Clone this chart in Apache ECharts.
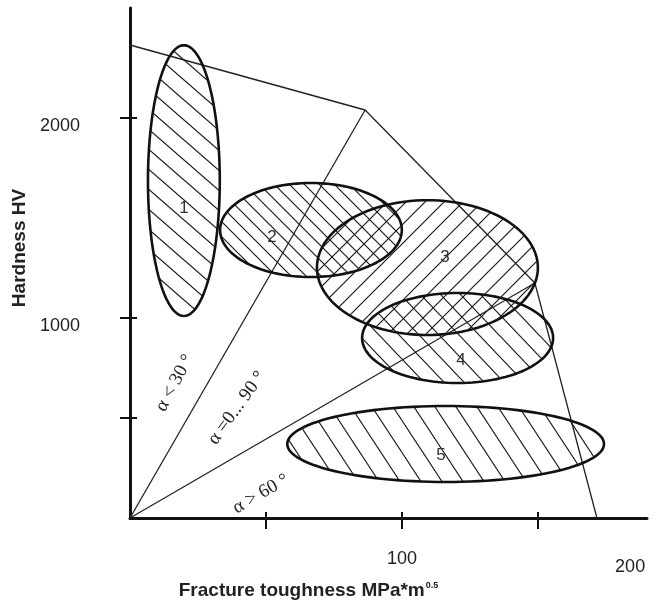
<!DOCTYPE html>
<html>
<head>
<meta charset="utf-8">
<script src="https://cdn.jsdelivr.net/npm/echarts@6/dist/echarts.min.js"></script>
<style>
html, body { margin: 0; background: #fff; }
#chart { width: 659px; height: 601px; }
</style>
</head>
<body>
<div id="chart"></div>
<script>
// material regions 1..5 (ellipse centre and half widths, data units)
var regionNames = ['1', '2', '3', '4', '5'];
var centerToughness = [19.8, 66.5, 109.3, 120.4, 116.0];
var centerHardness = [1687, 1440, 1252, 900, 370];
var halfToughness = [13.2, 33.4, 40.6, 35.1, 58.2];
var halfHardness = [677, 235, 337, 225, 190];
var nameToughness = [19.8, 52.2, 115.8, 121.6, 114.3];
var nameHardness = [1550, 1405, 1305, 790, 315];

// upper bound and the two rays from the origin
var boundToughness = [0, 86.4, 148.8, 171.6];
var boundHardness = [2365, 2040, 1175, 0];
var rayEnds = [1, 2]; // index into bound arrays

// angle notes
var angleTexts = ['α < 30 °', 'α =0... 90 °', 'α > 60 °'];
var angleToughness = [16.5, 39.3, 48.1];
var angleHardness = [675, 550, 120];

// ticks and labels
var xTicks = [50, 100, 150];
var xLabelAt = [100, 183.8];
var xLabelText = ['100', '200'];
var yTicks = [500, 1000, 2000];
var yLabelAt = [1000, 2000];

// styles
var hatchDir = ['\\', '\\', '/', '\\', '\\'];
var hatchW = [23, 15, 19, 20, 21];
var hatchH = [20, 15, 19, 21, 32];
var angleRotate = [62, 54, 30];
var ink = '#111';

// tile with one diagonal, repeated -> parallel hatch lines
function makeHatch(dir, w, h) {
	var c = document.createElement('canvas');
	c.width = w;
	c.height = h;
	var g = c.getContext('2d');
	g.strokeStyle = '#1a1a1a';
	g.lineWidth = 1.2;
	g.beginPath();
	for (var k = -1; k <= 1; k++) {
		if (dir == '\\') {
			g.moveTo(k * w - w, -h); g.lineTo(k * w + 2 * w, 2 * h);
		} else {
			g.moveTo(k * w - w, 2 * h); g.lineTo(k * w + 2 * w, -h);
		}
	}
	g.stroke();
	return { image: c, repeat: 'repeat' };
}

var regionData = regionNames.map(function (n, i) {
	return [centerToughness[i], centerHardness[i], halfToughness[i], halfHardness[i], nameToughness[i], nameHardness[i]];
});
var boundData = boundToughness.map(function (x, i) { return [x, boundHardness[i]]; });
var angleData = angleTexts.map(function (t, i) { return [angleToughness[i], angleHardness[i]]; });

var myChart = echarts.init(document.getElementById('chart'));

var axisFont = 'Liberation Sans, Arial, sans-serif';

var option = {
	animation: false,
	grid: { left: 130, right: 12, top: 8, bottom: 83, outerBoundsMode: 'none' },
	xAxis: [{
		type: 'value', min: 0, max: 190,
		splitLine: { show: false },
		axisLine: { lineStyle: { color: ink, width: 3 } },
		axisTick: { customValues: xTicks, length: 11, lineStyle: { color: ink, width: 2 } },
		axisLabel: {
			customValues: xLabelAt,
			margin: 32,
			fontSize: 18, fontFamily: axisFont, color: '#222',
			formatter: function (v) {
				var i = xLabelAt.indexOf(v);
				return i == 1 ? '{low|' + xLabelText[i] + '}' : xLabelText[i];
			},
			rich: { low: { fontSize: 18, fontFamily: axisFont, color: '#222', padding: [8, 0, 0, 0] } }
		},
		name: 'Fracture toughness MPa*m{sup|0.5}',
		nameLocation: 'middle',
		nameGap: 52,
		nameTextStyle: {
			fontSize: 19, fontWeight: 'bold', fontFamily: axisFont, color: '#222',
			padding: [0, 160, 0, 0],
			rich: { sup: { fontSize: 9, fontWeight: 'bold', fontFamily: axisFont, color: '#222', verticalAlign: 'top', padding: [0, 0, 10, 1] } }
		}
	}, {
		// inner half of the crossing ticks
		type: 'value', min: 0, max: 190, position: 'bottom',
		splitLine: { show: false },
		axisLine: { show: false },
		axisLabel: { show: false },
		axisTick: { customValues: xTicks, inside: true, length: 6, lineStyle: { color: ink, width: 2 } }
	}],
	yAxis: [{
		type: 'value', min: 0, max: 2550,
		splitLine: { show: false },
		axisLine: { lineStyle: { color: ink, width: 3 } },
		axisTick: { customValues: yTicks, length: 10, lineStyle: { color: ink, width: 2 } },
		axisLabel: {
			customValues: yLabelAt,
			margin: 50,
			fontSize: 18, fontFamily: axisFont, color: '#222',
			formatter: function (v) { return '{n|' + v + '}'; },
			rich: { n: { fontSize: 18, fontFamily: axisFont, color: '#222', padding: [17, 0, 0, 0] } }
		},
		name: 'Hardness HV',
		nameLocation: 'middle',
		nameGap: 98,
		nameTextStyle: {
			fontSize: 19, fontWeight: 'bold', fontFamily: axisFont, color: '#222',
			padding: [0, 0, 0, 30]
		}
	}, {
		type: 'value', min: 0, max: 2550, position: 'left',
		splitLine: { show: false },
		axisLine: { show: false },
		axisLabel: { show: false },
		axisTick: { customValues: yTicks, inside: true, length: 7, lineStyle: { color: ink, width: 2 } }
	}],
	series: [{
		type: 'line',
		data: boundData,
		symbol: 'none',
		lineStyle: { color: '#222', width: 1.3 }
	}].concat(rayEnds.map(function (k) {
		return {
			type: 'line',
			data: [[0, 0], boundData[k]],
			symbol: 'none',
			lineStyle: { color: '#222', width: 1.3 }
		};
	})).concat([{
		type: 'custom',
		data: regionData,
		z: 5,
		renderItem: function (params, api) {
			var i = params.dataIndex;
			var c = api.coord([api.value(0), api.value(1)]);
			var s = api.size([api.value(2), api.value(3)]);
			var pts = [];
			for (var k = 0; k < 120; k++) {
				var t = k / 120 * Math.PI * 2;
				pts.push([c[0] + s[0] * Math.cos(t), c[1] + s[1] * Math.sin(t)]);
			}
			var p = api.coord([api.value(4), api.value(5)]);
			return {
				type: 'group',
				children: [{
					type: 'polygon',
					shape: { points: pts },
					style: { fill: makeHatch(hatchDir[i], hatchW[i], hatchH[i]), stroke: ink, lineWidth: 2.6 }
				}, {
					type: 'text',
					x: p[0], y: p[1],
					style: { text: regionNames[i], fontSize: 17, fontFamily: axisFont, fill: '#333', align: 'center', verticalAlign: 'middle' }
				}]
			};
		}
	}, {
		type: 'custom',
		data: angleData,
		z: 6,
		renderItem: function (params, api) {
			var i = params.dataIndex;
			var p = api.coord([api.value(0), api.value(1)]);
			return {
				type: 'text',
				x: p[0], y: p[1],
				rotation: angleRotate[i] * Math.PI / 180,
				style: { text: angleTexts[i], fontSize: 19, fontFamily: 'Liberation Serif, Times New Roman, serif', fill: '#222', align: 'center', verticalAlign: 'middle' }
			};
		}
	}])
};

myChart.setOption(option);
</script>
</body>
</html>
